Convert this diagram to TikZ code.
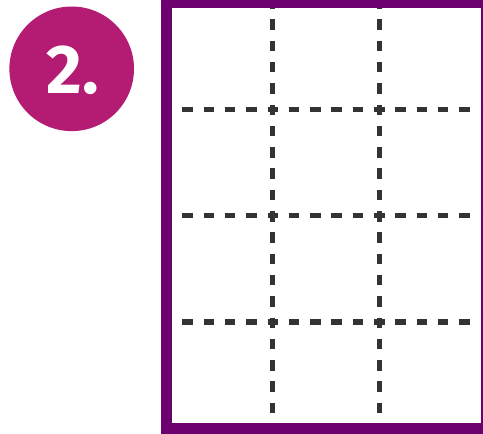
\documentclass[tikz,border=0pt]{standalone}
\usepackage{fontspec}
\newfontfamily\badgefont{Fira Sans}
\definecolor{framepurple}{HTML}{6C006E}
\definecolor{badgemagenta}{HTML}{B41B72}
\definecolor{dashgray}{HTML}{333333}
\begin{document}
\begin{tikzpicture}[x=1pt,y=-1pt,
  gridline/.style={draw=dashgray,line width=5.3pt,dash pattern=on 10.5pt off 10.8pt},
  framebox/.style={draw=framepurple,line width=10.4pt},
  badge/.style={circle,fill=badgemagenta,minimum size=124.6pt,inner sep=0pt}]
\clip (0,0) rectangle (483,434);
\fill[white] (0,0) rectangle (483,434);
% dashed grid
\foreach \yy in {109.5,215.5,322}{
  \draw[gridline] (161,\yy) -- (483,\yy);
}
\foreach \xx in {272.8,379.3}{
  \draw[gridline] (\xx,-2) -- (\xx,414);
}
% frame
\draw[framebox] (166.4,3.2) rectangle (486,428.3);
% badge
\node[badge] (badge) at (71.7,68.8) {};
\node[text=white,font=\badgefont\bfseries\fontsize{69}{69}\selectfont,anchor=base,inner sep=0pt] (label) at (72.5,93) {2.};
\end{tikzpicture}
\end{document}
